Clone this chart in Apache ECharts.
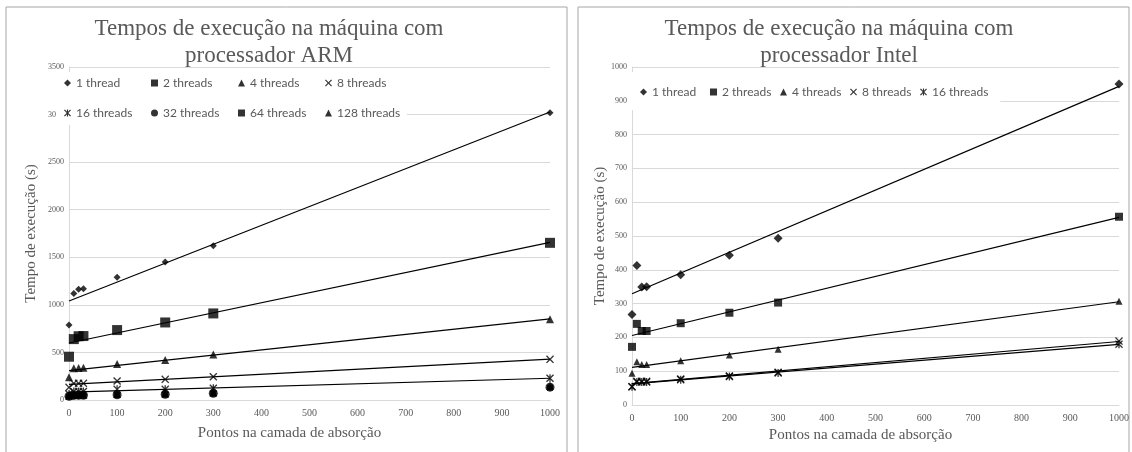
<!DOCTYPE html>
<html>
<head>
<meta charset="utf-8">
<script src="https://cdn.jsdelivr.net/npm/echarts@6/dist/echarts.min.js"></script>
<style>
  html, body { margin: 0; padding: 0; background: #fff; }
  #Chart { width: 1132px; height: 452px; }
</style>
</head>
<body>
<div id="Chart"></div>
<script>
// pontos na camada de absorção (eixo x)
var xPts = [0, 10, 20, 30, 100, 200, 300, 1000];
var xTicks = [0, 100, 200, 300, 400, 500, 600, 700, 800, 900, 1000];

// ARM
var armNames = ['1 thread', '2 threads', '4 threads', '8 threads', '16 threads', '32 threads', '64 threads', '128 threads'];
var arm1 = [788, 1120, 1165, 1168, 1290, 1450, 1620, 3020];
var arm2 = [455, 640, 670, 672, 735, 815, 910, 1652];
var arm4 = [238, 333, 337, 340, 378, 420, 478, 848];
var arm8 = [133, 175, 175, 175, 200, 217, 245, 427];
var arm16 = [63, 90, 90, 90, 112, 112, 123, 228];
var arm32 = [40, 48, 50, 50, 55, 60, 70, 135];
var arm64 = [38, 45, 47, 47, 52, 58, 68, 130];
var arm128 = [45, 52, 55, 55, 62, 68, 78, 150];

// Intel
var intelNames = ['1 thread', '2 threads', '4 threads', '8 threads', '16 threads'];
var intel1 = [268, 413, 349, 350, 385, 443, 493, 950];
var intel2 = [172, 240, 219, 219, 242, 273, 303, 557];
var intel4 = [94, 128, 120, 120, 131, 148, 165, 307];
var intel8 = [54, 70, 70, 70, 77, 86, 97, 189];
var intel16 = [54, 68, 68, 68, 75, 84, 95, 180];

var textGray = '#595959';
var gridGray = '#d9d9d9';
var symX = 'path://M0,1.2L1.2,0L5,3.8L8.8,0L10,1.2L6.2,5L10,8.8L8.8,10L5,6.2L1.2,10L0,8.8L3.8,5Z';
var symStar = 'path://M0,1.2L1.2,0L5,3.8L8.8,0L10,1.2L6.2,5L10,8.8L8.8,10L5,6.2L1.2,10L0,8.8L3.8,5Z M4.2,0H5.8V10H4.2Z';

function pairs(ys) {
    return xPts.map(function (x, i) { return [x, ys[i]]; });
}
// linha de tendência linear (mínimos quadrados)
function trend(ys) {
    var n = xPts.length, sx = 0, sy = 0, sxx = 0, sxy = 0;
    for (var i = 0; i < n; i++) {
        sx += xPts[i]; sy += ys[i];
        sxx += xPts[i] * xPts[i]; sxy += xPts[i] * ys[i];
    }
    var b = (n * sxy - sx * sy) / (n * sxx - sx * sx);
    var a = (sy - b * sx) / n;
    var x0 = Math.min.apply(null, xPts), x1 = Math.max.apply(null, xPts);
    return [[x0, a + b * x0], [x1, a + b * x1]];
}

var series = [];
function addSeries(name, ys, sym, size, idx, withTrend) {
    if (withTrend) {
        series.push({
            name: name + ' trend', type: 'line', data: trend(ys),
            xAxisIndex: idx, yAxisIndex: idx, showSymbol: false, symbol: 'none',
            lineStyle: { color: '#000', width: 1.2 }, z: 2, silent: true
        });
    }
    series.push({
        name: name, type: 'scatter', data: pairs(ys),
        xAxisIndex: idx, yAxisIndex: idx, symbol: sym, symbolSize: size,
        itemStyle: { color: '#000' }, z: 3
    });
}

var armData = [arm1, arm2, arm4, arm8, arm16, arm32, arm64, arm128];
var armSym = ['diamond', 'rect', 'triangle', symX, symStar, 'circle', 'rect', 'triangle'];
var armSize = [7, 10, 8, 8, 8, 9, 6, 8];
for (var i = 0; i < armNames.length; i++) {
    addSeries(armNames[i], armData[i], armSym[i], armSize[i], 0, i < 5);
}
var intelData = [intel1, intel2, intel4, intel8, intel16];
var intelSym = ['diamond', 'rect', 'triangle', symX, symStar];
var intelSize = [9, 8, 7, 8, 8];
for (var j = 0; j < intelNames.length; j++) {
    addSeries(intelNames[j], intelData[j], intelSym[j], intelSize[j], 1, true);
}

function plain(v) { return String(v); }

function xAxisCfg(idx, gap, pad) {
    return {
        gridIndex: idx, type: 'value', min: xTicks[0], max: xTicks[xTicks.length - 1],
        interval: xTicks[1] - xTicks[0],
        name: 'Pontos na camada de absorção', nameLocation: 'middle', nameGap: gap,
        nameTextStyle: { fontFamily: 'Liberation Serif', fontSize: 15, color: textGray, padding: pad },
        axisLine: { show: true, lineStyle: { color: gridGray } },
        axisTick: { show: false },
        splitLine: { show: false },
        axisLabel: { fontFamily: 'Liberation Serif', fontSize: 10, color: textGray, margin: 8, formatter: plain }
    };
}
function yAxisCfg(idx, max, step, gap) {
    return {
        gridIndex: idx, type: 'value', min: 0, max: max, interval: step,
        name: 'Tempo de execução (s)', nameLocation: 'middle', nameGap: gap, nameRotate: 90,
        nameTextStyle: { fontFamily: 'Liberation Serif', fontSize: 15, color: textGray },
        axisLine: { show: true, lineStyle: { color: gridGray } },
        axisTick: { show: false },
        splitLine: { show: true, lineStyle: { color: gridGray } },
        axisLabel: { fontFamily: 'Liberation Serif', fontSize: 8, color: textGray, margin: 5, formatter: plain }
    };
}
function legendCfg(names, left, top, pad, textW, gap) {
    return {
        data: names, left: left, top: top, orient: 'horizontal',
        padding: pad, itemGap: gap, itemWidth: 7, itemHeight: 7,
        backgroundColor: '#fff', selectedMode: false,
        textStyle: { fontFamily: 'Lato', fontSize: 12, color: textGray, width: textW, lineHeight: 12, padding: [0, 0, 0, 0] }
    };
}

var myChart = echarts.init(document.getElementById('Chart'));
var option = {
    animation: false,
    title: [
        {
            text: 'Tempos de execução na máquina com\nprocessador ARM', left: 264, top: 10, textAlign: 'center',
            textStyle: { fontFamily: 'Liberation Serif', fontSize: 23, fontWeight: 'normal', color: textGray, lineHeight: 27 }
        },
        {
            text: 'Tempos de execução na máquina com\nprocessador Intel', left: 834, top: 10, textAlign: 'center',
            textStyle: { fontFamily: 'Liberation Serif', fontSize: 23, fontWeight: 'normal', color: textGray, lineHeight: 27 }
        }
    ],
    legend: [
        legendCfg(armNames.slice(0, 4), 56, 72, [5, 4, 9, 8], 66, 9),
        legendCfg(armNames.slice(4), 56, 98, [9, 4, 6, 8], 66, 9),
        legendCfg(intelNames, 629, 72, [14, 12, 12, 11], 50, 8)
    ],
    grid: [
        { left: 69, top: 67, width: 481, height: 333 },
        { left: 632, top: 67, width: 491, height: 338 }
    ],
    xAxis: [xAxisCfg(0, 26, [0, 40, 0, 0]), xAxisCfg(1, 22, [0, 30, 0, 0])],
    yAxis: [yAxisCfg(0, 3500, 500, 30), yAxisCfg(1, 1000, 100, 24)],
    graphic: [
        { type: 'rect', shape: { x: 6, y: 7, width: 561, height: 470 }, style: { fill: 'none', stroke: '#a6a6a6', lineWidth: 1 }, z: -1 },
        { type: 'rect', shape: { x: 578, y: 7, width: 551, height: 470 }, style: { fill: 'none', stroke: '#a6a6a6', lineWidth: 1 }, z: -1 }
    ],
    series: series
};
myChart.setOption(option);
window.addEventListener('resize', function () {
    myChart.resize();
});
</script>
</body>
</html>
